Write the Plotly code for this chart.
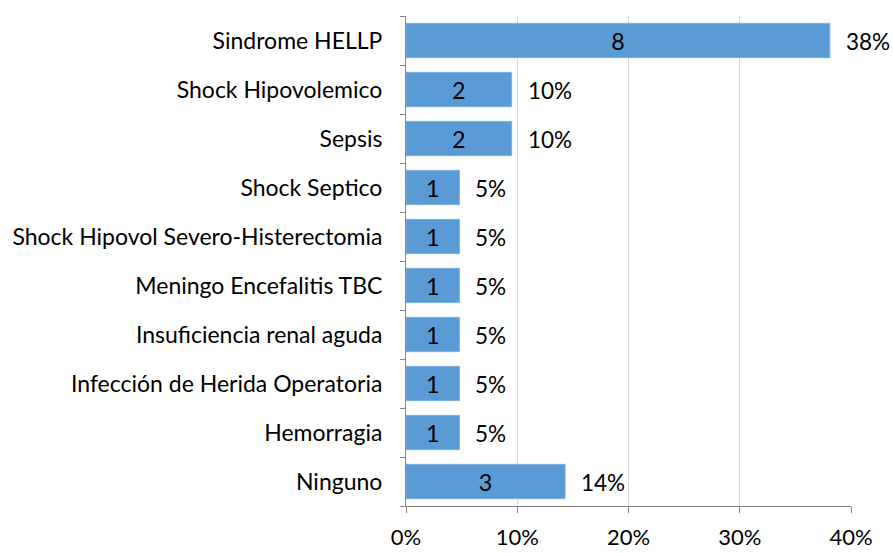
import plotly.graph_objects as go

categories = [
    "Sindrome HELLP",
    "Shock Hipovolemico",
    "Sepsis",
    "Shock Septico",
    "Shock Hipovol Severo-Histerectomia",
    "Meningo Encefalitis TBC",
    "Insuficiencia renal aguda",
    "Infección de Herida Operatoria",
    "Hemorragia",
    "Ninguno",
]
counts = [8, 2, 2, 1, 1, 1, 1, 1, 1, 3]
percents = [38.1, 9.5, 9.5, 4.8, 4.8, 4.8, 4.8, 4.8, 4.8, 14.3]
pct_labels = ["38%", "10%", "10%", "5%", "5%", "5%", "5%", "5%", "5%", "14%"]
x_ticks = [0, 10, 20, 30, 40]
x_tick_labels = ["0%", "10%", "20%", "30%", "40%"]

FONT = "Lato"
BAR = "#5B9BD5"

fig = go.Figure()
fig.add_trace(go.Bar(
    y=categories,
    x=percents,
    orientation="h",
    marker=dict(color=BAR, line=dict(color="#7FB2E0", width=1)),
    text=[str(c) for c in counts],
    textposition="inside",
    insidetextanchor="middle",
    textangle=0,
    insidetextfont=dict(family=FONT, size=28, color="black"),
    hoverinfo="skip",
))

for cat, p, lab in zip(categories, percents, pct_labels):
    fig.add_annotation(
        x=p, y=cat, text=lab, showarrow=False,
        xanchor="left", yanchor="middle", xshift=14, yshift=-1,
        font=dict(family=FONT, size=22.5, color="black"),
    )

fig.update_layout(
    width=893, height=553,
    margin=dict(l=406, r=42, t=16, b=47, autoexpand=False),
    paper_bgcolor="white", plot_bgcolor="white",
    bargap=0.3,
    showlegend=False,
    font=dict(family=FONT, size=23, color="black"),
)
fig.update_xaxes(
    range=[0, 40],
    tickvals=x_ticks, ticktext=x_tick_labels,
    showgrid=True, gridcolor="#D9D9D9", gridwidth=1,
    showline=True, linecolor="#868686", linewidth=1,
    ticks="outside", ticklen=6, tickcolor="#868686",
    ticklabelstandoff=6,
    zeroline=False,
    tickfont=dict(family=FONT, size=22, color="black"),
    fixedrange=True,
)
fig.update_yaxes(
    categoryorder="array", categoryarray=categories[::-1],
    showline=True, linecolor="#868686", linewidth=1,
    ticks="outside", ticklen=5, tickcolor="#868686",
    tickson="boundaries",
    ticklabelstandoff=18,
    showgrid=False,
    tickfont=dict(family=FONT, size=23, color="black"),
    fixedrange=True,
)

fig.write_html(
    "out.html",
    config={"displayModeBar": False},
    post_script="document.body.style.margin='0';document.body.style.overflow='hidden';",
)
